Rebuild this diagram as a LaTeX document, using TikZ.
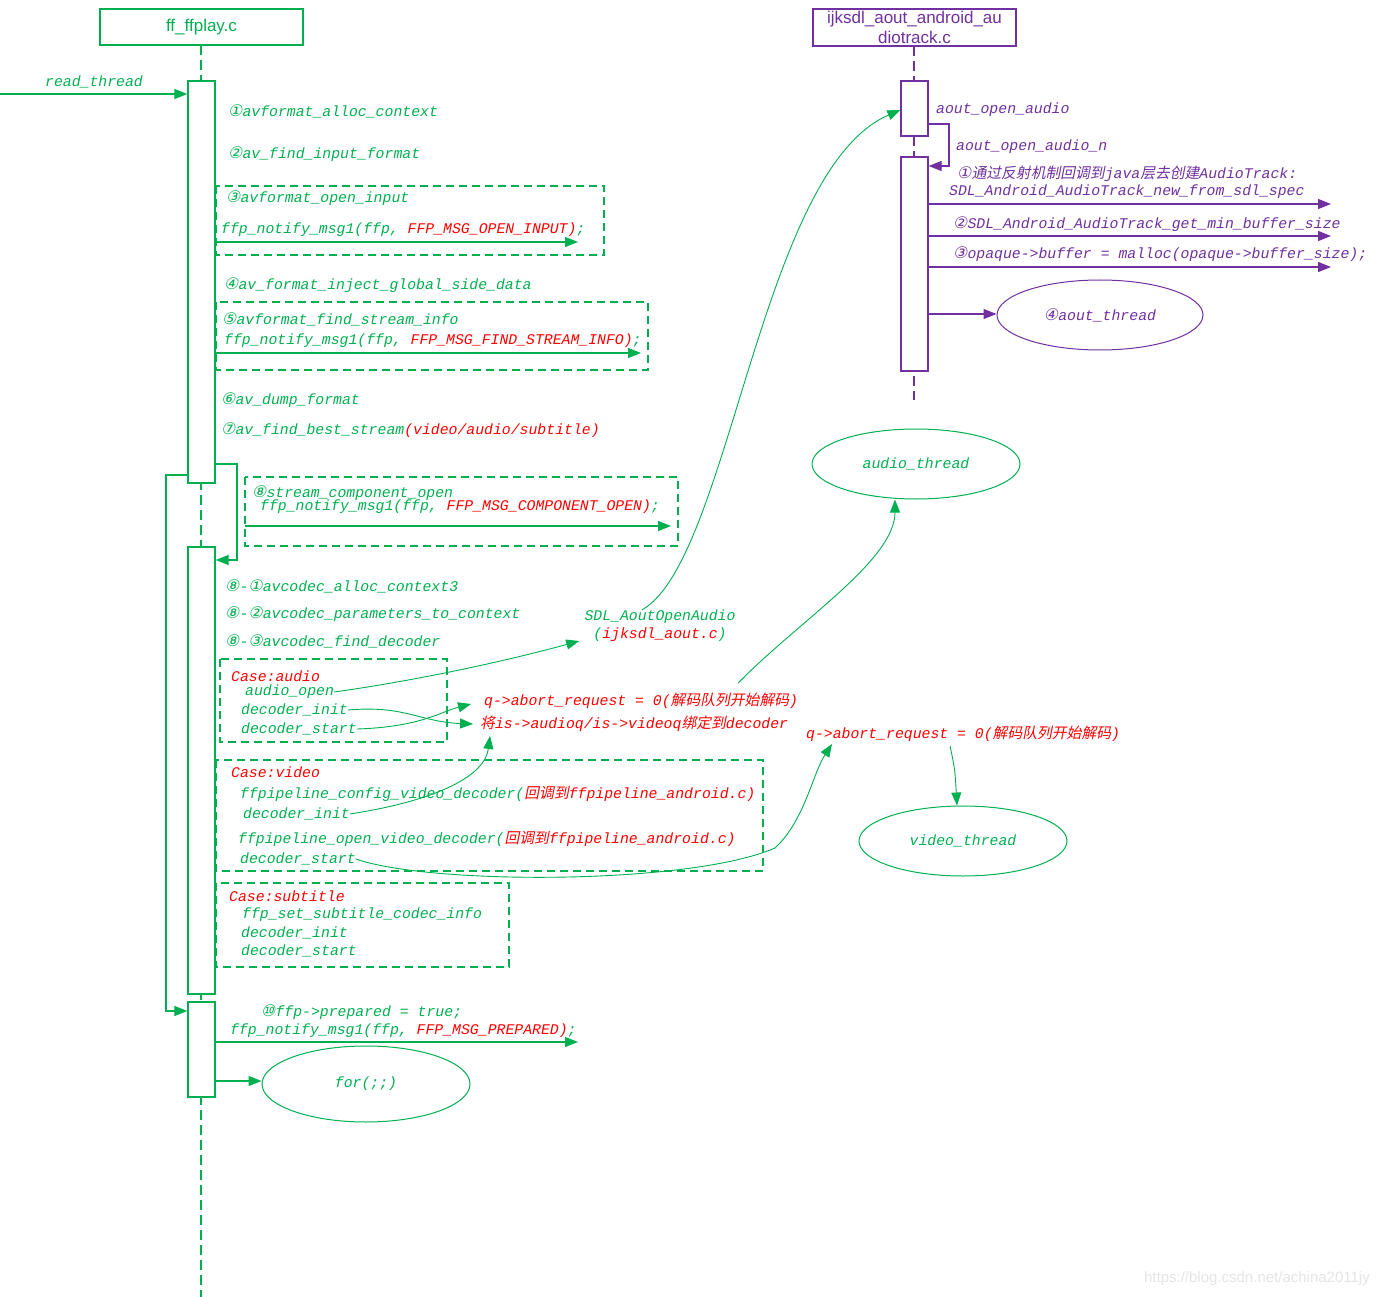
\documentclass[tikz,border=0pt]{standalone}
\usepackage{fontspec}
\usetikzlibrary{arrows.meta,shapes.geometric}
\setmainfont{Liberation Sans}
\newfontfamily\monof{Liberation Mono}
\newfontfamily\cjkf[FakeSlant=0.2]{Noto Sans CJK SC}
\newfontfamily\circf[FakeSlant=0.2]{DejaVu Sans}
\definecolor{grn}{RGB}{0,176,80}
\definecolor{prp}{RGB}{112,48,160}
\definecolor{rd}{RGB}{255,0,0}
\newcommand{\zh}[1]{{\cjkf\upshape #1}}
\newcommand{\cn}[1]{{\circf\upshape\fontsize{16}{16}\selectfont #1}}
\tikzset{
  mono/.style={font=\monof\itshape\fontsize{14.8}{16}\selectfont},
  lbl/.style={mono, text=grn, anchor=west, inner sep=0pt, yshift=-2pt},
  plbl/.style={mono, text=prp, anchor=west, inner sep=0pt, yshift=-2pt},
  tip/.style={-{Triangle[length=13pt,width=10pt]}},
  garr/.style={draw=grn, line width=1.1pt, tip},
  gcurve/.style={draw=grn, line width=0.9pt, tip},
  parr/.style={draw=prp, line width=1.1pt, tip},
  gdash/.style={draw=grn, line width=1.2pt, dash pattern=on 8pt off 5pt},
  lifeg/.style={draw=grn, line width=2pt, dash pattern=on 10pt off 5pt},
  lifep/.style={draw=prp, line width=2pt, dash pattern=on 10pt off 5pt},
  actg/.style={draw=grn, fill=white, line width=1.2pt, minimum width=27pt, inner sep=0pt},
  actp/.style={draw=prp, fill=white, line width=1.2pt, minimum width=27pt, inner sep=0pt},
  hdr/.style={line width=1.1pt, minimum width=203pt, minimum height=36pt, inner sep=0pt, font=\fontsize{17}{20}\selectfont, align=center},
  ell/.style={ellipse, line width=1pt, minimum width=208pt, minimum height=70pt, inner sep=0pt, mono},
}
\begin{document}
\begin{tikzpicture}[x=1pt,y=-1pt]
\fill[white] (0,0) rectangle (1379,1297);
\useasboundingbox (0,0) rectangle (1379,1297);

% headers
\node[hdr, draw=grn, text=grn] (h1) at (201.5,27) {ff\_ffplay.c};
\node[hdr, draw=prp, text=prp, minimum height=37pt] (h2) at (914.5,27.5) {ijksdl\_aout\_android\_au\\diotrack.c};

% lifelines
\coordinate (l1top) at (201,45);
\coordinate (l1end) at (201,1297);
\coordinate (l2top) at (914,46);
\coordinate (l2end) at (914,400);
\draw[lifeg] (l1top) -- (l1end);
\draw[lifep] (l2top) -- (l2end);

% activation boxes
\node[actg, minimum height=402pt] (a1) at (201.5,282) {};
\node[actg, minimum height=447pt] (a2) at (201.5,770.5) {};
\node[actg, minimum height=95pt] (a3) at (201.5,1049.5) {};
\node[actp, minimum height=55pt] (b1) at (914.5,108.5) {};
\node[actp, minimum height=214pt] (b2) at (914.5,264) {};

% combined fragments
\draw[gdash] (216,186) rectangle (604,255);
\draw[gdash] (216,302) rectangle (648,370);
\draw[gdash] (245,477) rectangle (678,546);
\draw[gdash] (220,659) rectangle (447,742);
\draw[gdash] (216,760) rectangle (763,871);
\draw[gdash] (216,883) rectangle (509,967);

% left texts
\node[lbl, anchor=center] (rt) at (94,80) {read\_thread};
\node[lbl] (t1) at (228,109) {\cn{①}avformat\_alloc\_context};
\node[lbl] (t2) at (228,152) {\cn{②}av\_find\_input\_format};
\node[lbl] (t3) at (226,196) {\cn{③}avformat\_open\_input};
\node[lbl] (t3b) at (221,228) {ffp\_notify\_msg1(ffp, \textcolor{rd}{FFP\_MSG\_OPEN\_INPUT)};};
\node[lbl] (t4) at (224,283) {\cn{④}av\_format\_inject\_global\_side\_data};
\node[lbl] (t5) at (222,317) {\cn{⑤}avformat\_find\_stream\_info};
\node[lbl] (t5b) at (224,339) {ffp\_notify\_msg1(ffp, \textcolor{rd}{FFP\_MSG\_FIND\_STREAM\_INFO)};};
\node[lbl] (t6) at (221,398) {\cn{⑥}av\_dump\_format};
\node[lbl] (t7) at (221,428) {\cn{⑦}av\_find\_best\_stream\textcolor{rd}{(video/audio/subtitle)}};
\node[lbl] (t8) at (252,491) {\cn{⑧}stream\_component\_open};
\node[lbl] (t8b) at (260,505) {ffp\_notify\_msg1(ffp, \textcolor{rd}{FFP\_MSG\_COMPONENT\_OPEN)};};
\node[lbl] (t81) at (225,584) {\cn{⑧}-\cn{①}avcodec\_alloc\_context3};
\node[lbl] (t82) at (225,612) {\cn{⑧}-\cn{②}avcodec\_parameters\_to\_context};
\node[lbl] (t83) at (225,639) {\cn{⑧}-\cn{③}avcodec\_find\_decoder};
\node[lbl, text=rd] (ca) at (231,674) {Case:audio};
\node[lbl] (aopen) at (245,690) {audio\_open};
\node[lbl] (ainit) at (241,708) {decoder\_init};
\node[lbl] (astart) at (241,727) {decoder\_start};
\node[lbl, text=rd] (cv) at (231,770) {Case:video};
\node[lbl] (vcfg) at (240,792) {ffpipeline\_config\_video\_decoder(\textcolor{rd}{\zh{回调到}ffpipeline\_android.c)}};
\node[lbl] (vinit) at (243,812) {decoder\_init};
\node[lbl] (vopen) at (238,837) {ffpipeline\_open\_video\_decoder(\textcolor{rd}{\zh{回调到}ffpipeline\_android.c)}};
\node[lbl] (vstart) at (240,857) {decoder\_start};
\node[lbl, text=rd] (cs) at (229,894) {Case:subtitle};
\node[lbl] (sinfo) at (242,913) {ffp\_set\_subtitle\_codec\_info};
\node[lbl] (sinit) at (241,931) {decoder\_init};
\node[lbl] (sstart) at (241,949) {decoder\_start};
\node[lbl] (t10) at (261,1010) {\cn{⑩}ffp->prepared = true;};
\node[lbl] (t10b) at (230,1029) {ffp\_notify\_msg1(ffp, \textcolor{rd}{FFP\_MSG\_PREPARED)};};

% middle texts
\node[lbl, anchor=center] (sdl) at (660,615) {SDL\_AoutOpenAudio};
\node[lbl, anchor=center] (sdlf) at (660,633) {(\textcolor{rd}{ijksdl\_aout.c})};
\node[lbl, text=rd] (qa1) at (484,699) {q->abort\_request = 0(\zh{解码队列开始解码})};
\node[lbl, text=rd] (bind) at (480,722) {\zh{将}is->audioq/is->videoq\zh{绑定到}decoder};
\node[lbl, text=rd] (qa2) at (806,732) {q->abort\_request = 0(\zh{解码队列开始解码})};

% ellipses
\node[ell, draw=grn, text=grn] (athr) at (916,464) {audio\_thread};
\node[ell, draw=grn, text=grn] (vthr) at (963,841) {video\_thread};
\node[ell, draw=grn, text=grn, minimum height=76pt] (forl) at (366,1084) {for(;;)};
\node[ell, draw=prp, text=prp, minimum width=206pt] (aout) at (1100,315) {\cn{④}aout\_thread};

% purple texts
\node[plbl] (p0) at (936,108) {aout\_open\_audio};
\node[plbl] (p0n) at (956,145) {aout\_open\_audio\_n};
\node[plbl] (p1) at (957,172) {\cn{①}\zh{通过反射机制回调到}java\zh{层去创建}AudioTrack:};
\node[plbl] (p1b) at (949,190) {SDL\_Android\_AudioTrack\_new\_from\_sdl\_spec};
\node[plbl] (p2) at (953,222) {\cn{②}SDL\_Android\_AudioTrack\_get\_min\_buffer\_size};
\node[plbl] (p3) at (953,252) {\cn{③}opaque->buffer = malloc(opaque->buffer\_size);};

% free-end coordinates
\coordinate (rtstart) at (0,94);
\coordinate (e3) at (578,242);
\coordinate (e5) at (641,353);
\coordinate (s8) at (245,526);
\coordinate (e8) at (671,526);
\coordinate (e10) at (578,1042);
\coordinate (pe1) at (1331,204);
\coordinate (pe2) at (1331,236);
\coordinate (pe3) at (1331,267);

% green connectors
\draw[garr] (rtstart) -- (rtstart -| a1.west);
\draw[garr] (a1.east |- e3) -- (e3);
\draw[garr] (a1.east |- e5) -- (e5);
\draw[garr] (s8) -- (e8);
\draw[garr] (a1.east |- 0,464) -- (237,464) |- (a2.east |- 0,560);
\draw[garr] (a1.west |- 0,475) -- (166,475) |- (a3.west |- 0,1011);
\draw[garr] (a3.east |- e10) -- (e10);
\draw[garr] (a3.east |- 0,1081) -- (forl.west |- 0,1081);

\draw[gcurve] (aopen.east) .. controls (420,680) and (510,660) .. ([xshift=-14pt,yshift=-6pt]sdlf.west);
\draw[gcurve] ([xshift=-18pt]sdl.north) .. controls (730,560) and (760,170) .. (b1.west |- 0,110);
\draw[gcurve] (ainit.east) .. controls (405,705) and (420,722) .. ([xshift=-7pt]bind.west);
\draw[gcurve] (astart.east) .. controls (420,727) and (440,712) .. ([xshift=-13pt,yshift=-3pt]qa1.west);
\draw[gcurve] (vinit.east) .. controls (440,800) and (485,775) .. ([xshift=10pt,yshift=-4pt]bind.south west);
\draw[gcurve] (vstart.east) .. controls (430,885) and (690,885) .. (775,848) .. controls (805,820) and (812,775) .. ([xshift=26pt,yshift=-2pt]qa2.south west);
\draw[gcurve] ([xshift=97pt,yshift=10pt]qa1.north) .. controls (800,620) and (895,560) .. ([xshift=-21pt]athr.south);
\draw[gcurve] ([xshift=-13pt,yshift=-4pt]qa2.south) .. controls (955,770) .. ([xshift=-6pt]vthr.north);

% purple connectors
\draw[parr] (b1.east |- 0,124) -- (949,124) |- (b2.east |- 0,166);
\draw[parr] (b2.east |- pe1) -- (pe1);
\draw[parr] (b2.east |- pe2) -- (pe2);
\draw[parr] (b2.east |- pe3) -- (pe3);
\draw[parr] (b2.east |- 0,314) -- (aout.west |- 0,314);

% watermark
\node[anchor=east, text=black!10, font=\fontsize{15}{18}\selectfont, inner sep=0pt] (wm) at (1370,1279) {https://blog.csdn.net/achina2011jy};
\end{tikzpicture}
\end{document}
